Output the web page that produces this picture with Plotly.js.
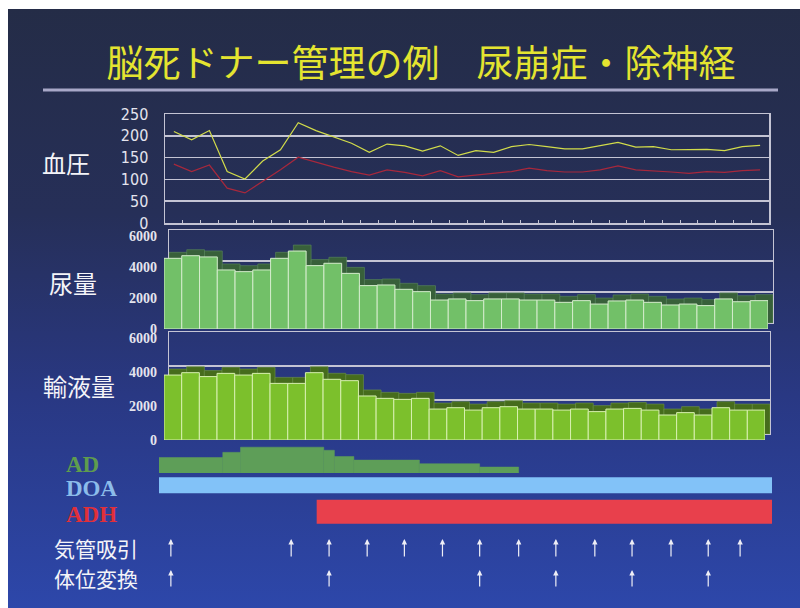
<!DOCTYPE html>
<html>
<head>
<meta charset="utf-8">
<script src="https://cdn.plot.ly/plotly-3.0.1.min.js"></script>
<style>
  html, body { margin: 0; padding: 0; }
  body { width: 800px; height: 608px; overflow: hidden;
         background: linear-gradient(180deg, #242c46 0%, #262f58 35%, #293883 65%, #2d47aa 100%); }
  #chart { width: 800px; height: 608px; }
</style>
</head>
<body>
<div id="chart"></div>
<script>
// ---- data ----
const systolic = [210,191,212,118,101,142,168,230,212,198,183,162,181,177,165,177,155,166,162,175,180,175,170,170,177,185,174,175,168,168,169,166,175,178];
const diastolic = [135,118,133,80,69,95,122,151,139,128,118,110,122,116,108,120,106,110,114,118,126,120,117,117,122,131,122,120,117,114,118,116,120,122];
const urineVolume = [4560,4730,4650,3810,3700,3810,4560,5030,4090,4240,3590,2800,2840,2560,2410,1870,1940,1830,1940,1940,1870,1870,1720,1830,1610,1810,1870,1720,1550,1610,1510,1940,1760,1830];
const infusionVolume = [3820,3960,3730,3920,3820,3920,3330,3330,3960,3570,3490,2590,2450,2390,2450,1820,1900,1760,1900,1960,1820,1820,1760,1820,1670,1820,1860,1760,1470,1610,1470,1900,1760,1760];
const bpTicks = [0,50,100,150,200,250];
const volTicks = [0,2000,4000,6000];

const adStart = [-0.4, 3.2, 4.2, 8.9, 9.5, 10.6, 14.3, 17.7];
const adEnd   = [3.2, 4.2, 8.9, 9.5, 10.6, 14.3, 17.7, 19.9];
const adDose  = [3.0, 4.0, 5.0, 4.4, 3.2, 2.5, 1.8, 1.15];
const drugNames = ['DOA', 'ADH'];
const drugStart = [-0.4, 8.5];
const drugEnd = [34.2, 34.2];

const suctionTimes = [0.27, 7.06, 9.2, 11.35, 13.45, 15.6, 17.7, 19.9, 22.0, 24.2, 26.3, 28.5, 30.6, 32.4];
const repositionTimes = [0.27, 9.2, 17.7, 22.0, 26.3, 30.6];

const titleText = '脳死ドナー管理の例　尿崩症・除神経';

// ---- helpers (pixel -> paper) ----
const W = 800, H = 608;
const px = v => v / W;
const py = v => 1 - v / H;
const dom = (a, b) => [py(b), py(a)];

const slots = systolic.map((_, i) => i + 0.5);

const gridCol = '#c4c4d4';
const cjk = 'Noto Sans CJK JP, sans-serif';

const traces = [
  { x: slots, y: systolic, xaxis: 'x', yaxis: 'y', type: 'scatter', mode: 'lines',
    line: { color: '#d2dc4a', width: 1.2 } },
  { x: slots, y: diastolic, xaxis: 'x', yaxis: 'y', type: 'scatter', mode: 'lines',
    line: { color: '#a8283c', width: 1.2 } },
  // urine: back (depth) then front
  { x: slots, y: urineVolume, xaxis: 'x2', yaxis: 'y2', type: 'bar', width: 1,
    marker: { color: '#38603a', line: { color: '#5a8a5c', width: 0.6 } } },
  { x: slots, y: urineVolume, xaxis: 'x3', yaxis: 'y3', type: 'bar', width: 1,
    marker: { color: '#72c068', line: { color: '#d4eccc', width: 1 } } },
  // infusion: back then front
  { x: slots, y: infusionVolume, xaxis: 'x4', yaxis: 'y4', type: 'bar', width: 1,
    marker: { color: '#466c1c', line: { color: '#6e9644', width: 0.6 } } },
  { x: slots, y: infusionVolume, xaxis: 'x5', yaxis: 'y5', type: 'bar', width: 1,
    marker: { color: '#7cc02c', line: { color: '#d8f0b0', width: 1 } } },
  // AD steps
  { x: adStart.map((s, i) => (s + adEnd[i]) / 2), y: adDose, width: adStart.map((s, i) => adEnd[i] - s),
    xaxis: 'x6', yaxis: 'y6', type: 'bar', marker: { color: '#5e9e58', line: { color: '#5e9e58', width: 0.5 } } },
  // DOA / ADH
  { y: drugNames, x: drugStart.map((s, i) => drugEnd[i] - s), base: drugStart, orientation: 'h',
    width: [0.6, 0.9], xaxis: 'x6', yaxis: 'y7', type: 'bar',
    marker: { color: ['#82c2f8', '#e8404c'], line: { width: 0 } } }
];

const hidden = { visible: false, fixedrange: true };
const annotations = [];
function label(text, x, y, size, color, family, anchor, weight) {
  annotations.push({ text, x: px(x), y: py(y), xref: 'paper', yref: 'paper', showarrow: false,
    xanchor: anchor || 'center', yanchor: 'middle', font: { size, color, family, weight: weight || 'normal' } });
}
label('血圧', 66, 162, 24, '#f4f4f8', cjk);
label('尿量', 73, 282, 24, '#f4f4f8', cjk);
label('輸液量', 79, 385, 24, '#f4f4f8', cjk);
label('AD', 64, 464, 23, '#5f9c4e', 'Liberation Serif, serif', 'left', 'bold');
label('DOA', 64, 488, 23, '#8cbcea', 'Liberation Serif, serif', 'left', 'bold');
label('ADH', 64, 514, 23, '#e0303a', 'Liberation Serif, serif', 'left', 'bold');
label('気管吸引', 96, 548, 21, '#f4f4f8', cjk);
label('体位変換', 96, 578, 21, '#f4f4f8', cjk);

function arrows(times, headY, len) {
  times.forEach(t => annotations.push({
    x: t, y: py(headY), xref: 'x6', yref: 'paper', text: '', showarrow: true,
    ax: 0, ay: len, arrowhead: 2, arrowsize: 0.9, arrowwidth: 1.2, arrowcolor: '#eeeef6', standoff: 0
  }));
}
arrows(suctionTimes, 539, 19);
arrows(repositionTimes, 570, 18);

const volTickFont = { family: 'Liberation Serif, serif', size: 14, color: '#e4e4ee', weight: 'bold' };

const layout = {
  width: W, height: H,
  margin: { l: 0, r: 0, t: 0, b: 0 },
  paper_bgcolor: 'rgba(0,0,0,0)', plot_bgcolor: 'rgba(0,0,0,0)',
  showlegend: false, hovermode: false, barmode: 'overlay',
  title: { text: titleText, x: px(421), xanchor: 'center', y: py(64), yanchor: 'middle', yref: 'paper',
           font: { family: cjk, size: 37, color: '#e4e430' } },
  // blood pressure
  xaxis: { domain: [px(165), px(769)], range: [0, 34], anchor: 'y', showgrid: false, zeroline: false,
           showticklabels: false, ticks: 'inside', dtick: 1, tick0: 0, ticklen: 3, tickcolor: gridCol,
           showline: true, mirror: true, linecolor: gridCol, linewidth: 1.5, fixedrange: true },
  yaxis: { domain: dom(114, 223), range: [0, 250], tickvals: bpTicks, anchor: 'x', showgrid: true,
           gridcolor: gridCol, gridwidth: 1.5, zeroline: false, showline: true, mirror: true,
           linecolor: gridCol, linewidth: 1.5, ticks: '', ticklabelstandoff: 12,
           tickfont: { family: 'Liberation Sans Narrow, DejaVu Sans Condensed, sans-serif', size: 16, color: '#e4e4ee' },
           fixedrange: true },
  // urine back plane
  xaxis2: { domain: [px(169), px(773)], range: [0, 34], anchor: 'y2', showgrid: false, zeroline: false,
            showticklabels: false, showline: true, mirror: true, linecolor: gridCol, linewidth: 1, fixedrange: true },
  yaxis2: { domain: dom(230, 323), range: [0, 6000], tickvals: volTicks, anchor: 'x2', showgrid: true,
            gridcolor: gridCol, gridwidth: 1.2, zeroline: false, showticklabels: false, showline: true,
            mirror: true, linecolor: gridCol, linewidth: 1, fixedrange: true },
  // urine front
  xaxis3: Object.assign({ domain: [px(164), px(768)], range: [0, 34], anchor: 'y3' }, hidden),
  yaxis3: { domain: dom(236, 329), range: [0, 6000], tickvals: volTicks, anchor: 'x3', showgrid: false,
            zeroline: false, showline: false, ticks: '', ticklabelstandoff: 6, tickfont: volTickFont, fixedrange: true },
  // infusion back plane
  xaxis4: { domain: [px(169), px(770)], range: [0, 34], anchor: 'y4', showgrid: false, zeroline: false,
            showticklabels: false, showline: true, mirror: true, linecolor: gridCol, linewidth: 1, fixedrange: true },
  yaxis4: { domain: dom(332, 434), range: [0, 6000], tickvals: volTicks, anchor: 'x4', showgrid: true,
            gridcolor: gridCol, gridwidth: 1.2, zeroline: false, showticklabels: false, showline: true,
            mirror: true, linecolor: gridCol, linewidth: 1, fixedrange: true },
  // infusion front
  xaxis5: Object.assign({ domain: [px(164), px(765)], range: [0, 34], anchor: 'y5' }, hidden),
  yaxis5: { domain: dom(338, 440), range: [0, 6000], tickvals: volTicks, anchor: 'x5', showgrid: false,
            zeroline: false, showline: false, ticks: '', ticklabelstandoff: 6, tickfont: volTickFont, fixedrange: true },
  // lower timeline
  xaxis6: Object.assign({ domain: [px(159), px(772)], range: [-0.4, 34.2], anchor: 'y6' }, hidden),
  yaxis6: Object.assign({ domain: dom(442, 473), range: [0, 6], anchor: 'x6' }, hidden),
  yaxis7: Object.assign({ domain: dom(472, 525), range: [1.5, -0.5], anchor: 'x6', type: 'category' }, hidden),
  annotations,
  shapes: [
    { type: 'line', xref: 'paper', yref: 'paper', x0: px(43), x1: px(778), y0: py(90), y1: py(90),
      line: { color: '#a8a8c8', width: 3 } },
    { type: 'rect', xref: 'paper', yref: 'paper', x0: 0, x1: 1, y0: py(9), y1: 1,
      fillcolor: '#ffffff', line: { width: 0 } },
    { type: 'rect', xref: 'paper', yref: 'paper', x0: 0, x1: px(8), y0: 0, y1: 1,
      fillcolor: '#ffffff', line: { width: 0 } }
  ]
};

Plotly.newPlot('chart', traces, layout, { staticPlot: true, displayModeBar: false });
</script>
</body>
</html>
